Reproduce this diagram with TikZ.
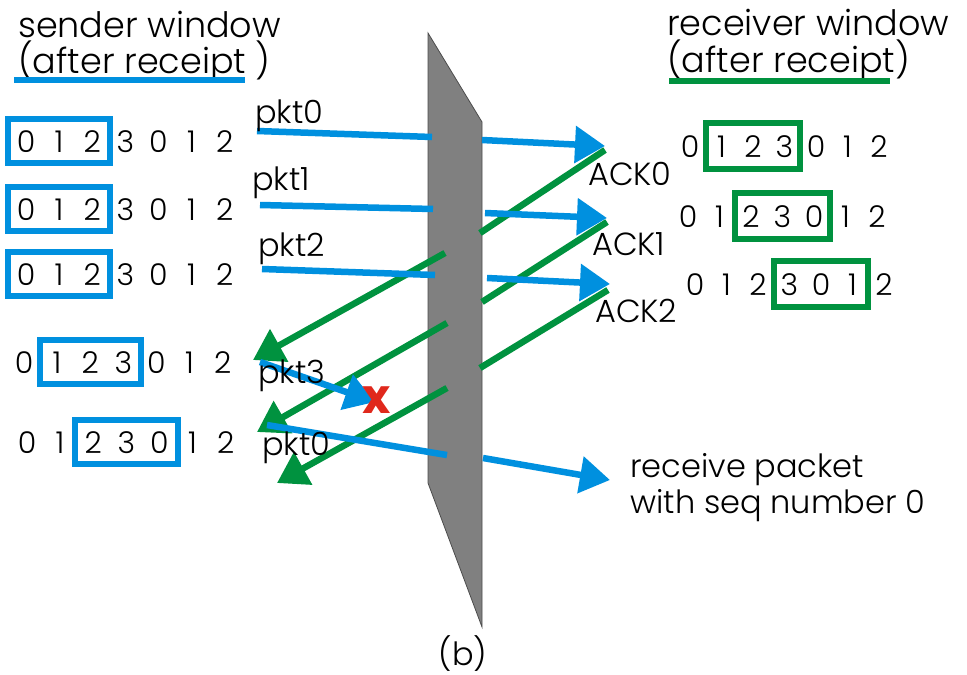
\documentclass[tikz,border=0pt]{standalone}
\usepackage{fontspec}
\setmainfont{Poppins}[UprightFont=* Light, BoldFont=* Bold]
\usetikzlibrary{arrows.meta,fit}
\definecolor{netblue}{RGB}{0,144,223}
\definecolor{netgreen}{RGB}{0,146,63}
\definecolor{lossred}{RGB}{224,40,28}
\definecolor{slabgray}{RGB}{128,128,128}
\tikzset{
  txt/.style={inner sep=0pt, anchor=base west, font=\fontsize{32}{38}\selectfont},
  title/.style={txt, font=\fontsize{35}{40}\selectfont},
  digit/.style={inner sep=0pt, anchor=base, text height=22pt, text depth=0pt,
    minimum width=16pt, font=\fontsize{30}{32}\selectfont},
  sendbox/.style={draw=netblue, line width=6pt, inner xsep=9pt, inner ysep=11pt},
  recvbox/.style={draw=netgreen, line width=6pt, inner xsep=7pt, inner ysep=12pt},
  pkt/.style={draw=netblue, line width=6.5pt},
  ack/.style={draw=netgreen, line width=6.5pt},
  bigtip/.style={-{Triangle[length=30pt,width=36pt]}},
}
\begin{document}
\begin{tikzpicture}[x=1pt,y=-1pt]
\useasboundingbox (0,0) rectangle (967,675);

%% titles
\node[title] (sndtitle) at (18,37) {sender window};
\node[title] (sndsub) at (18,73) {(after receipt )};
\draw[netblue, line width=6pt] (14,80) -- (245,80);
\node[title] (rcvtitle) at (667,35) {receiver window};
\node[title] (rcvsub) at (667,72) {(after receipt)};
\draw[netgreen, line width=6pt] (669,81) -- (890,81);

%% sender side: sequence numbers and windows
\foreach \r/\x/\y in {1/26/152, 2/26/220, 3/26/285, 4/24/373, 5/27/453}{
  \foreach \d [count=\i from 0] in {0,1,2,3,0,1,2}
    \node[digit] (s\r-\i) at (\x+33.1*\i,\y) {\d};
}
\node[sendbox, fit=(s1-0)(s1-2)] (sw1) {};
\node[sendbox, fit=(s2-0)(s2-2)] (sw2) {};
\node[sendbox, fit=(s3-0)(s3-2)] (sw3) {};
\node[sendbox, fit=(s4-1)(s4-3)] (sw4) {};
\node[sendbox, fit=(s5-2)(s5-4)] (sw5) {};

%% receiver side
\foreach \r/\x/\y in {1/690/157, 2/688/227, 3/695/295}{
  \foreach \d [count=\i from 0] in {0,1,2,3,0,1,2}
    \node[digit] (r\r-\i) at (\x+31.5*\i,\y) {\d};
}
\node[recvbox, fit=(r1-1)(r1-3)] (rw1) {};
\node[recvbox, fit=(r2-2)(r2-4)] (rw2) {};
\node[recvbox, fit=(r3-3)(r3-5)] (rw3) {};

%% the channel
\filldraw[fill=slabgray, draw=black!70, line width=0.8pt]
  (428,33) -- (482,122) -- (482,627) -- (428,483) -- cycle;
\node[txt, anchor=base] (cap) at (463,665) {(b)};

%% end points of the messages
\coordinate (b0s) at (257,131); \coordinate (b0l) at (432,137);
\coordinate (b0r) at (482,140); \coordinate (b0t) at (605,146);
\coordinate (b1s) at (260,205); \coordinate (b1l) at (433,209);
\coordinate (b1r) at (485,213); \coordinate (b1t) at (607,218);
\coordinate (b2s) at (262,269); \coordinate (b2l) at (435,275);
\coordinate (b2r) at (487,278); \coordinate (b2t) at (610,284);
\coordinate (b3s) at (260,362); \coordinate (b3t) at (375,402);
\coordinate (b4s) at (267,425); \coordinate (b4l) at (447,455);
\coordinate (b4r) at (483,458); \coordinate (b4t) at (610,480);
\coordinate (g0s) at (605,150); \coordinate (g0r) at (480,233);
\coordinate (g0l) at (445,253); \coordinate (g0t) at (253,360);
\coordinate (g1s) at (607,222); \coordinate (g1r) at (482,302);
\coordinate (g1l) at (447,323); \coordinate (g1t) at (257,432);
\coordinate (g2s) at (608,290); \coordinate (g2r) at (480,368);
\coordinate (g2l) at (447,388); \coordinate (g2t) at (277,483);

%% acks (green) go under the packets (blue)
\foreach \a in {g0,g1,g2}{
  \draw[ack] (\a s) -- (\a r);
  \draw[ack, bigtip] (\a l) -- (\a t);
}
\foreach \p in {b0,b1,b2,b4}{
  \draw[pkt] (\p s) -- (\p l);
  \draw[pkt, bigtip] (\p r) -- (\p t);
}
\draw[pkt, bigtip] (b3s) -- (b3t);
\node[text=lossred, font=\fontsize{48}{48}\bfseries] (loss) at (377,400) {x};

%% labels
\node[txt] (pkt0) at (255,123) {pkt0};
\node[txt] (pkt1) at (252,190) {pkt1};
\node[txt] (pkt2) at (258,256) {pkt2};
\node[txt] (pkt3) at (258,383) {pkt3};
\node[txt] (pkt0b) at (262,455) {pkt0};
\node[txt] (ack0) at (588,185) {ACK0};
\node[txt] (ack1) at (592,255) {ACK1};
\node[txt] (ack2) at (595,322) {ACK2};
\node[txt] (rcvmsg) at (630,477) {receive packet};
\node[txt] (rcvmsg2) at (630,513) {with seq number 0};
\end{tikzpicture}
\end{document}
